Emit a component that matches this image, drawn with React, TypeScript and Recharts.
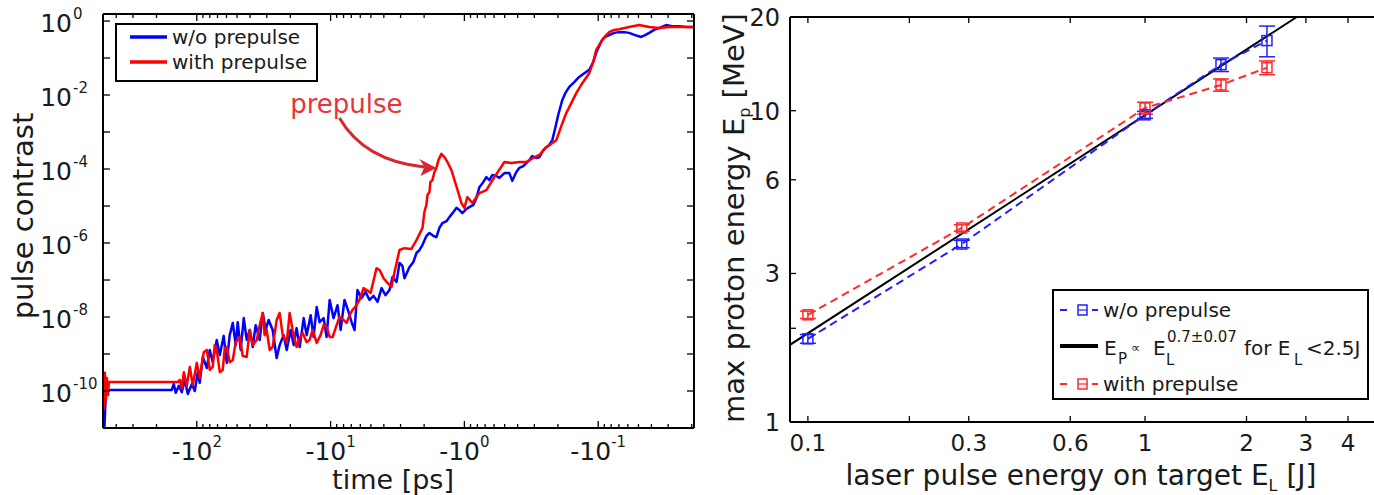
import React from 'react'
import { LineChart, Line, XAxis, YAxis, ReferenceDot, ErrorBar } from 'recharts'

const FONT = '"DejaVu Sans", Verdana, sans-serif'
const INK = '#1a1a1a'

// left panel: x = log10(|time| in ps), y = log10(pulse contrast)
const blueLgT = [
  2.694, 2.679, 2.664, 2.187, 2.172, 2.157, 2.134, 2.112, 2.09, 2.067, 2.037, 2.015, 1.993, 1.978, 1.955, 1.925,
  1.903, 1.881, 1.851, 1.828, 1.799, 1.776, 1.754, 1.731, 1.709, 1.694, 1.672, 1.649, 1.627, 1.604, 1.582, 1.56,
  1.53, 1.507, 1.485, 1.463, 1.433, 1.403, 1.381, 1.351, 1.328, 1.299, 1.276, 1.254, 1.231, 1.201, 1.179, 1.149,
  1.127, 1.104, 1.082, 1.052, 1.03, 1.007, 0.978, 0.948, 0.925, 0.896, 0.866, 0.843, 0.821, 0.799, 0.769, 0.739,
  0.709, 0.679, 0.649, 0.619, 0.59, 0.56, 0.537, 0.507, 0.485, 0.463, 0.448, 0.41, 0.381, 0.358, 0.336, 0.313,
  0.284, 0.261, 0.231, 0.209, 0.187, 0.164, 0.134, 0.112, 0.082, 0.06, 0.037, 0.015, -0.015, -0.037, -0.067, -0.09,
  -0.112, -0.142, -0.164, -0.187, -0.209, -0.239, -0.261, -0.299, -0.336, -0.358, -0.388, -0.41, -0.44, -0.463,
  -0.485, -0.507, -0.537, -0.56, -0.59, -0.612, -0.634, -0.657, -0.679, -0.701, -0.731, -0.754, -0.784, -0.821,
  -0.858, -0.896, -0.933, -0.963, -0.985, -1.007, -1.03, -1.052, -1.082, -1.119, -1.157, -1.194, -1.231, -1.276,
  -1.321, -1.351, -1.381, -1.418, -1.455, -1.507, -1.552, -1.604, -1.657, -1.716,
]
const blueLgC = [
  -11.32, -9.97, -9.97, -9.97, -9.81, -10.05, -9.86, -10.03, -9.7, -10.08, -9.81, -10.0, -9.49, -9.78, -9.08, -9.38,
  -8.89, -9.22, -8.62, -9.03, -8.51, -9.24, -8.49, -8.16, -8.76, -8.14, -8.89, -8.03, -8.62, -8.35, -8.81, -8.22,
  -8.62, -7.89, -8.35, -8.08, -8.35, -9.11, -8.76, -8.49, -8.89, -8.35, -8.76, -8.3, -8.81, -8.03, -8.49, -7.95,
  -8.54, -7.73, -8.14, -8.03, -8.54, -7.54, -8.03, -7.68, -8.35, -7.54, -7.86, -8.14, -8.35, -7.27, -7.49, -7.32,
  -7.54, -7.43, -7.59, -7.22, -7.41, -7.27, -6.92, -7.05, -6.54, -6.62, -6.95, -6.65, -6.51, -6.27, -6.19, -6.05,
  -5.81, -5.73, -5.81, -5.84, -5.59, -5.46, -5.41, -5.3, -5.16, -5.05, -5.11, -5.19, -5.08, -5.03, -4.97, -4.78,
  -4.49, -4.35, -4.22, -4.3, -4.16, -4.19, -4.24, -4.11, -4.11, -4.32, -4.08, -3.97, -3.92, -3.84,
  -3.76, -3.65, -3.7, -3.68, -3.49, -3.41, -3.35, -3.22, -2.89, -2.54, -2.14, -1.95, -1.78, -1.65,
  -1.51, -1.41, -1.32, -1.11, -0.86, -0.68, -0.51, -0.43, -0.38, -0.32, -0.3, -0.3, -0.32, -0.38,
  -0.43, -0.38, -0.32, -0.24, -0.19, -0.11, -0.14, -0.14, -0.16, -0.16,
]
const redLgT = [
  2.694, 2.687, 2.679, 2.672, 2.664, 2.657, 2.142, 2.127, 2.112, 2.097, 2.075, 2.052, 2.03, 2.0, 1.978, 1.948,
  1.925, 1.903, 1.881, 1.866, 1.851, 1.828, 1.806, 1.791, 1.776, 1.754, 1.731, 1.709, 1.679, 1.657, 1.627, 1.604,
  1.582, 1.552, 1.53, 1.507, 1.493, 1.478, 1.455, 1.433, 1.403, 1.381, 1.358, 1.328, 1.306, 1.284, 1.254, 1.231,
  1.209, 1.179, 1.157, 1.134, 1.104, 1.075, 1.052, 1.03, 1.007, 0.985, 0.955, 0.933, 0.903, 0.881, 0.858, 0.836,
  0.806, 0.784, 0.754, 0.731, 0.701, 0.657, 0.634, 0.604, 0.575, 0.545, 0.522, 0.485, 0.448, 0.396, 0.358, 0.336,
  0.313, 0.299, 0.284, 0.276, 0.261, 0.254, 0.239, 0.224, 0.209, 0.194, 0.172, 0.149, 0.127, 0.097, 0.06, 0.022,
  0.0, -0.022, -0.06, -0.09, -0.112, -0.164, -0.224, -0.299, -0.351, -0.41, -0.463, -0.515, -0.56, -0.612, -0.649,
  -0.687, -0.724, -0.761, -0.799, -0.836, -0.881, -0.933, -0.963, -0.985, -1.007, -1.03, -1.06, -1.082, -1.119,
  -1.157, -1.231, -1.306, -1.381, -1.455, -1.53, -1.604, -1.716,
]
const redLgC = [
  -10.51, -9.51, -10.24, -9.65, -10.11, -9.76, -9.76, -9.7, -9.92, -9.49, -9.86, -9.35, -9.84, -9.24, -9.65, -8.95,
  -8.89, -9.43, -9.35, -8.76, -8.89, -9.49, -9.43, -8.84, -8.81, -9.22, -9.16, -8.68, -8.54, -9.05, -9.08, -8.35,
  -8.76, -8.62, -8.22, -7.89, -8.49, -8.35, -8.89, -8.81, -8.08, -7.89, -8.49, -8.7, -7.89, -8.35, -8.81, -8.57,
  -8.43, -8.68, -8.62, -8.35, -8.7, -8.49, -8.22, -8.27, -8.54, -8.54, -8.22, -8.0, -8.08, -8.16, -7.95, -7.81,
  -7.68, -7.54, -7.22, -7.27, -7.35, -6.68, -6.73, -6.95, -7.08, -7.19, -6.78, -6.19, -6.14, -6.16, -5.92, -5.76,
  -5.59, -5.16, -4.97, -4.7, -4.62, -4.35, -4.3, -4.08, -3.97, -3.76, -3.59, -3.68, -3.81, -4.03, -4.46, -4.92,
  -5.05, -4.76, -4.92, -4.76, -4.65, -4.57, -4.22, -3.81, -3.84, -3.81, -3.81, -3.7, -3.62, -3.41, -3.32,
  -3.22, -2.84, -2.49, -2.22, -1.95, -1.68, -1.41, -1.11, -0.78, -0.65, -0.51, -0.38, -0.3, -0.24,
  -0.22, -0.16, -0.11, -0.16, -0.19, -0.16, -0.16, -0.16,
]
const timeMajor = [2, 1, 0, -1]
const contrastDecades = [-11, -10, -9, -8, -7, -6, -5, -4, -3, -2, -1, 0]

// right panel: laser energy [J] vs max proton energy [MeV]
const energyJ = [0.1, 0.286, 1, 1.68, 2.3]
const blueMeV = [1.85, 3.73, 9.7, 14.06, 16.8]
const blueErr = [0.06, 0.1, 0.25, 0.7, 1.9]
const redMeV = [2.21, 4.2, 10.2, 12.1, 13.75]
const redErr = [0.06, 0.1, 0.45, 0.55, 0.7]
const fitJ = [0.0885, 2.82]
const fitMeV = [1.77, 20]
const energyTicks = [0.1, 0.2, 0.3, 0.6, 1, 2, 3, 4]
const protonTicks = [1, 2, 3, 6, 10, 20]

const blueData = blueLgT.map((t, i) => ({ t, c: blueLgC[i] }))
const redData = redLgT.map((t, i) => ({ t, c: redLgC[i] }))
const pointData = energyJ.map((e, i) => ({ e, blue: blueMeV[i], blueErr: blueErr[i], red: redMeV[i], redErr: redErr[i] }))
const fitData = fitJ.map((e, i) => ({ e, fit: fitMeV[i] }))

const T_DOMAIN: [number, number] = [-1.716, 2.701]
const timeTicks: number[] = [...timeMajor]
for (let n = -2; n <= 2; n++) {
  for (let k = 2; k <= 9; k++) {
    const v = n + Math.log10(k)
    if (v > T_DOMAIN[0] && v < T_DOMAIN[1]) timeTicks.push(v)
  }
}

const tickStroke = { stroke: '#000', strokeWidth: 1.3 }
const frame = { stroke: '#000', strokeWidth: 2 }

const timeBottomTick = (p: any) => {
  const v = p.payload.value
  const major = timeMajor.includes(v)
  return (
    <g>
      <line x1={p.x} x2={p.x} y1={p.y} y2={p.y - (major ? 7 : 4)} {...tickStroke} />
      {major && (
        <text x={p.x} y={p.y + 32} textAnchor="middle" fontFamily={FONT} fontSize={25} fill={INK}>
          -10<tspan dy={-13} fontSize={15}>{v}</tspan>
        </text>
      )}
    </g>
  )
}
const timeTopTick = (p: any) => {
  const major = timeMajor.includes(p.payload.value)
  return <line x1={p.x} x2={p.x} y1={p.y} y2={p.y + (major ? 7 : 4)} {...tickStroke} />
}
const contrastLeftTick = (p: any) => {
  const v = p.payload.value
  return (
    <g>
      <line x1={p.x} x2={p.x + 7} y1={p.y} y2={p.y} {...tickStroke} />
      {v % 2 === 0 && (
        <>
          <text x={p.x - 31} y={p.y + 11} textAnchor="end" fontFamily={FONT} fontSize={25} fill={INK}>10</text>
          <text x={p.x - 30} y={p.y - 2} fontFamily={FONT} fontSize={15} fill={INK}>{v}</text>
        </>
      )}
    </g>
  )
}
const contrastRightTick = (p: any) => <line x1={p.x} x2={p.x - 7} y1={p.y} y2={p.y} {...tickStroke} />

const energyBottomTick = (p: any) => {
  const v = p.payload.value
  return (
    <g>
      <line x1={p.x} x2={p.x} y1={p.y} y2={p.y - 6} {...tickStroke} />
      {v !== 0.2 && (
        <text x={p.x} y={p.y + 29} textAnchor="middle" fontFamily={FONT} fontSize={23} fill={INK}>{v}</text>
      )}
    </g>
  )
}
const energyTopTick = (p: any) => <line x1={p.x} x2={p.x} y1={p.y} y2={p.y + 6} {...tickStroke} />
const protonLeftTick = (p: any) => {
  const v = p.payload.value
  return (
    <g>
      <line x1={p.x} x2={p.x + 6} y1={p.y} y2={p.y} {...tickStroke} />
      {v !== 2 && (
        <text x={p.x - 10} y={p.y + 9} textAnchor="end" fontFamily={FONT} fontSize={24} fill={INK}>{v}</text>
      )}
    </g>
  )
}

const square = (color: string) => (p: any) => (
  <rect key={`sq-${p.index}`} x={p.cx - 5} y={p.cy - 5} width={10} height={10} fill="none" stroke={color} strokeWidth={1.5} />
)

const prepulseArrow = (p: any) => {
  const { cx, cy } = p
  return (
    <g>
      <text x={cx - 90} y={cy - 55} textAnchor="middle" fontFamily={FONT} fontSize={26} fill="#e8333b">prepulse</text>
      <path d={`M${cx - 97},${cy - 50} Q${cx - 72},${cy - 7} ${cx - 12},${cy - 1}`} fill="none" stroke="#d9262e" strokeWidth={3} />
      <path d={`M${cx},${cy} L${cx - 17},${cy - 9} L${cx - 12},${cy - 1} L${cx - 16},${cy + 8} Z`} fill="#d9262e" />
    </g>
  )
}

// axes need a non-zero size to be drawn, so mirror axes get 1px
function ContrastChart() {
  return (
    <LineChart width={700} height={495} margin={{ top: 13, right: 5, bottom: 66, left: 0 }}>
      <XAxis type="number" dataKey="t" domain={T_DOMAIN} reversed allowDataOverflow ticks={timeTicks} interval={0}
        tick={timeBottomTick} tickLine={false} tickSize={0} tickMargin={0} height={1} axisLine={frame} />
      <XAxis xAxisId="top" orientation="top" type="number" dataKey="t" domain={T_DOMAIN} reversed allowDataOverflow
        ticks={timeTicks} interval={0} tick={timeTopTick} tickLine={false} tickSize={0} tickMargin={0} height={1} axisLine={frame} />
      <YAxis type="number" domain={[-11, 0.19]} allowDataOverflow ticks={contrastDecades} interval={0}
        tick={contrastLeftTick} tickLine={false} tickSize={0} tickMargin={0} width={103} axisLine={frame} />
      <YAxis yAxisId="right" orientation="right" type="number" domain={[-11, 0.19]} allowDataOverflow ticks={contrastDecades}
        interval={0} tick={contrastRightTick} tickLine={false} tickSize={0} tickMargin={0} width={1} axisLine={frame} />
      <Line data={blueData} dataKey="c" type="linear" stroke="#0000ff" strokeWidth={2.5} dot={false} activeDot={false}
        strokeLinejoin="round" isAnimationActive={false} />
      <Line data={redData} dataKey="c" type="linear" stroke="#ff0000" strokeWidth={2.5} dot={false} activeDot={false}
        strokeLinejoin="round" isAnimationActive={false} />
      <ReferenceDot x={0.209} y={-3.97} r={0} shape={prepulseArrow} />
    </LineChart>
  )
}

function ProtonChart() {
  return (
    <LineChart width={690} height={495} margin={{ top: 16, right: 5, bottom: 72, left: 0 }}>
      <XAxis type="number" dataKey="e" scale="log" domain={[0.0885, 4.81]} allowDataOverflow ticks={energyTicks} interval={0}
        tick={energyBottomTick} tickLine={false} tickSize={0} tickMargin={0} height={1} axisLine={frame} />
      <XAxis xAxisId="top" orientation="top" type="number" dataKey="e" scale="log" domain={[0.0885, 4.81]} allowDataOverflow
        ticks={energyTicks} interval={0} tick={energyTopTick} tickLine={false} tickSize={0} tickMargin={0} height={1} axisLine={frame} />
      <YAxis type="number" scale="log" domain={[1, 20]} allowDataOverflow ticks={protonTicks} interval={0}
        tick={protonLeftTick} tickLine={false} tickSize={0} tickMargin={0} width={100} axisLine={frame} />
      <Line data={fitData} dataKey="fit" type="linear" stroke="#000" strokeWidth={2} dot={false} activeDot={false}
        isAnimationActive={false} />
      <Line data={pointData} dataKey="blue" type="linear" stroke="#2020ff" strokeWidth={2} strokeDasharray="8 5"
        dot={square('#2020ff')} activeDot={false} isAnimationActive={false}>
        <ErrorBar dataKey="blueErr" direction="y" width={8} stroke="#2020ff" strokeWidth={1.5} />
      </Line>
      <Line data={pointData} dataKey="red" type="linear" stroke="#ff2a2a" strokeWidth={2} strokeDasharray="8 5"
        dot={square('#ff2a2a')} activeDot={false} isAnimationActive={false}>
        <ErrorBar dataKey="redErr" direction="y" width={8} stroke="#ff2a2a" strokeWidth={1.5} />
      </Line>
    </LineChart>
  )
}

function Overlay() {
  const t = { fontFamily: FONT, fill: INK }
  return (
    <svg width={1374} height={495} style={{ position: 'absolute', left: 0, top: 0, pointerEvents: 'none' }}>
      {/* axis titles */}
      <text {...t} fontSize={29} textAnchor="middle" transform="translate(33,216) rotate(-90)">pulse contrast</text>
      <text {...t} fontSize={27} textAnchor="middle" x={393} y={489}>time [ps]</text>
      <text {...t} fontSize={29} textAnchor="middle" transform="translate(744,218) rotate(-90)">
        max proton energy E<tspan dy={6} fontSize={16}>p</tspan><tspan dy={-6}> [MeV]</tspan>
      </text>
      <text {...t} fontSize={28} textAnchor="middle" x={1081} y={485}>
        laser pulse energy on target E<tspan dy={6} fontSize={16}>L</tspan><tspan dy={-6}> [J]</tspan>
      </text>

      {/* left legend */}
      <rect x={116} y={24} width={201} height={57} fill="#fff" stroke="#000" strokeWidth={2} />
      <line x1={130} x2={167} y1={37} y2={37} stroke="#0000ff" strokeWidth={3.5} />
      <line x1={130} x2={167} y1={62} y2={62} stroke="#ff0000" strokeWidth={3.5} />
      <text {...t} fontSize={20} x={172} y={44}>w/o prepulse</text>
      <text {...t} fontSize={20} x={172} y={69}>with prepulse</text>

      {/* right legend */}
      <rect x={1053} y={290} width={315} height={109} fill="#fff" stroke="#000" strokeWidth={2} />
      <line x1={1060} x2={1067} y1={310} y2={310} stroke="#2020ff" strokeWidth={2} />
      <rect x={1078} y={305} width={9} height={10} fill="none" stroke="#2020ff" strokeWidth={1.5} />
      <line x1={1078} x2={1087} y1={310} y2={310} stroke="#2020ff" strokeWidth={1.2} />
      <line x1={1092} x2={1098} y1={310} y2={310} stroke="#2020ff" strokeWidth={2} />
      <text {...t} fontSize={20} x={1103} y={317}>w/o prepulse</text>

      <line x1={1060} x2={1098} y1={346} y2={346} stroke="#000" strokeWidth={4} />
      <text {...t} fontSize={20} x={1104} y={355}>E</text>
      <text {...t} fontSize={15} x={1118} y={364}>P</text>
      <text {...t} fontSize={13} x={1131} y={352}>∝</text>
      <text {...t} fontSize={20} x={1153} y={355}>E</text>
      <text {...t} fontSize={15} x={1166} y={365}>L</text>
      <text {...t} fontSize={15} x={1167} y={342}>0.7±0.07</text>
      <text {...t} fontSize={20} x={1244} y={355}>for E</text>
      <text {...t} fontSize={15} x={1294} y={365}>L</text>
      <text {...t} fontSize={20} x={1306} y={355}>&lt;2.5J</text>

      <line x1={1060} x2={1067} y1={384} y2={384} stroke="#ff2a2a" strokeWidth={2} />
      <rect x={1078} y={379} width={9} height={10} fill="none" stroke="#ff2a2a" strokeWidth={1.5} />
      <line x1={1078} x2={1087} y1={384} y2={384} stroke="#ff2a2a" strokeWidth={1.2} />
      <line x1={1092} x2={1098} y1={384} y2={384} stroke="#ff2a2a" strokeWidth={2} />
      <text {...t} fontSize={20} x={1103} y={391}>with prepulse</text>
    </svg>
  )
}

export default function App() {
  return (
    <div style={{ position: 'absolute', left: 0, top: 0, width: 1374, height: 495, overflow: 'hidden', background: '#fff' }}>
      <div style={{ position: 'absolute', left: 0, top: 0 }}>
        <ContrastChart />
      </div>
      <div style={{ position: 'absolute', left: 690, top: 0 }}>
        <ProtonChart />
      </div>
      <Overlay />
    </div>
  )
}
